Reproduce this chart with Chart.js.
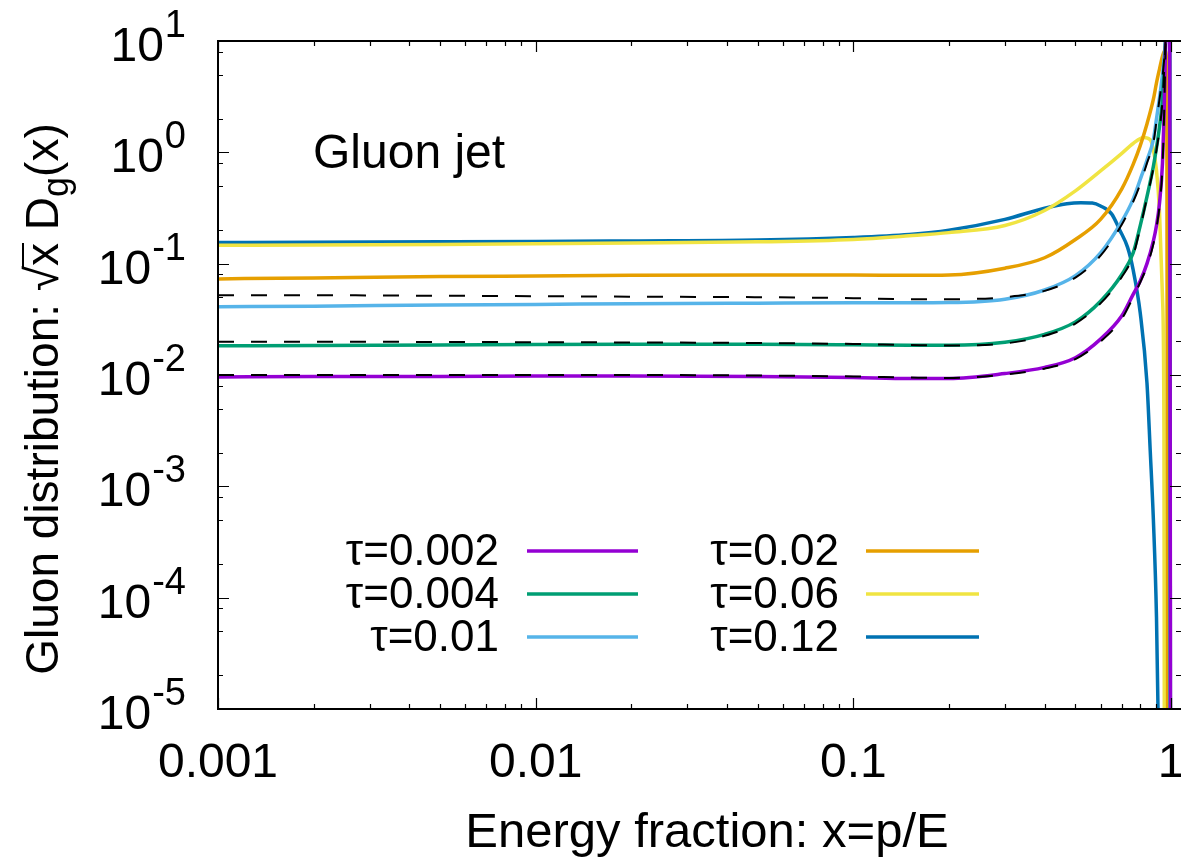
<!DOCTYPE html>
<html>
<head>
<meta charset="utf-8">
<script src="https://cdn.jsdelivr.net/npm/chart.js@4.4.1/dist/chart.umd.min.js"></script>
<style>
  html, body { margin: 0; padding: 0; background: #fff; overflow: hidden; }
  canvas { display: block; }
</style>
</head>
<body>
<canvas id="chart" width="1181" height="858"></canvas>
<script>
'use strict';

let canvasElem = document.getElementById('chart');

// axis ticks
const xTicks = [0.001, 0.01, 0.1, 1];
const xTickLabels = ['0.001', '0.01', '0.1', '1'];
const yTicks = [1e-5, 1e-4, 1e-3, 1e-2, 1e-1, 1, 10];
const yTickExps = ['-5', '-4', '-3', '-2', '-1', '0', '1'];

// shared x grid for the flat part of every curve
const xBase = [0.001, 0.002, 0.005, 0.01, 0.02, 0.05, 0.1, 0.15, 0.2, 0.3, 0.4, 0.5, 0.6, 0.7, 0.76, 0.8, 0.84, 0.88, 0.9, 0.92, 0.94];

// tau = 0.002
const tau002X = xBase.concat([0.95, 0.96, 0.97, 0.98, 0.99, 0.998]);
const tau002Y = [0.0096, 0.0097, 0.0097, 0.0098, 0.0098, 0.0097, 0.0095, 0.0093, 0.0093, 0.0103, 0.0117, 0.0143, 0.021, 0.034, 0.053, 0.07, 0.10, 0.16, 0.22, 0.35, 0.8, 2, 8, 25, 60, 120, 1e-8];
// tau = 0.004
const tau004X = xBase.concat([0.96, 0.97, 0.98, 0.99, 0.997]);
const tau004Y = [0.0183, 0.0184, 0.0186, 0.0188, 0.0189, 0.0189, 0.0187, 0.0185, 0.0185, 0.0197, 0.0232, 0.030, 0.046, 0.080, 0.125, 0.22, 0.40, 0.75, 1.1, 1.7, 3.0, 10, 25, 50, 80, 1e-8];
// tau = 0.01
const tau01X = xBase.concat([0.96, 0.97, 0.98, 0.99, 0.995]);
const tau01Y = [0.041, 0.0415, 0.0425, 0.043, 0.0437, 0.0442, 0.0445, 0.0445, 0.0447, 0.048, 0.058, 0.078, 0.125, 0.24, 0.38, 0.57, 0.85, 1.3, 2.0, 3.1, 5, 9.5, 14, 20, 22, 1e-8];
// tau = 0.02
const tau02X = xBase.concat([0.957, 0.97, 0.978]);
const tau02Y = [0.073, 0.0745, 0.0765, 0.0775, 0.0785, 0.079, 0.079, 0.0785, 0.079, 0.091, 0.113, 0.165, 0.25, 0.47, 0.78, 1.15, 1.8, 3.0, 4.2, 5.6, 7.3, 8.2, 6, 1e-8];
// tau = 0.06
const tau06X = [0.001, 0.002, 0.005, 0.01, 0.02, 0.05, 0.1, 0.15, 0.2, 0.3, 0.4, 0.5, 0.6, 0.7, 0.76, 0.82, 0.86, 0.88, 0.9, 0.92, 0.94, 0.95, 0.955];
const tau06Y = [0.146, 0.147, 0.149, 0.151, 0.153, 0.157, 0.165, 0.178, 0.19, 0.22, 0.30, 0.45, 0.68, 0.98, 1.2, 1.36, 1.3, 1.05, 0.69, 0.29, 0.05, 0.003, 1e-8];
// tau = 0.12
const tau12X = [0.001, 0.002, 0.005, 0.01, 0.02, 0.05, 0.1, 0.15, 0.2, 0.3, 0.4, 0.47, 0.52, 0.565, 0.6, 0.65, 0.69, 0.73, 0.76, 0.8, 0.84, 0.86, 0.88, 0.9, 0.91, 0.93];
const tau12Y = [0.155, 0.156, 0.157, 0.158, 0.16, 0.163, 0.172, 0.183, 0.20, 0.25, 0.315, 0.345, 0.352, 0.35, 0.33, 0.28, 0.20, 0.14, 0.088, 0.036, 0.0085, 0.0021, 5e-4, 6.7e-5, 1e-5, 1e-8];

// dashed approximations
const approxX = xBase.concat([0.95, 0.96, 0.97]);
const approx002Y = [0.0100, 0.0100, 0.0100, 0.0100, 0.0100, 0.0099, 0.0097, 0.0095, 0.0094, 0.0101, 0.0114, 0.0139, 0.020, 0.032, 0.050, 0.068, 0.095, 0.15, 0.21, 0.33, 0.75, 1.9, 7.5, 24];
const approx004Y = [0.0199, 0.0199, 0.0198, 0.0197, 0.0196, 0.0194, 0.019, 0.0186, 0.0184, 0.0192, 0.0225, 0.029, 0.044, 0.076, 0.118, 0.21, 0.39, 0.72, 1.05, 1.6, 2.9, 5, 9.5, 24];
const approx01Y = [0.052, 0.052, 0.0515, 0.051, 0.0505, 0.050, 0.049, 0.048, 0.048, 0.050, 0.057, 0.075, 0.118, 0.225, 0.36, 0.52, 0.8, 1.22, 1.9, 3.0, 4.8, 6.5, 9, 13];

function pts(xs, ys) {
    let out = [];
    for (let i = 0; i < xs.length; i++) {
        out.push({x: xs[i], y: ys[i]});
    }
    return out;
}

function solid(label, xs, ys, color) {
    return {
        label: label, data: pts(xs, ys),
        borderColor: color, borderWidth: 3.5,
        pointRadius: 0, fill: false,
        cubicInterpolationMode: 'monotone'
    };
}

function dashed(xs, ys) {
    return {
        label: '', data: pts(xs, ys),
        borderColor: '#000', borderWidth: 2, borderDash: [16, 17],
        pointRadius: 0, fill: false,
        cubicInterpolationMode: 'monotone'
    };
}

const datasets = [
    dashed(approxX, approx002Y),
    dashed(approxX, approx004Y),
    dashed(approxX, approx01Y),
    solid('τ=0.002', tau002X, tau002Y, '#9400d3'),
    solid('τ=0.004', tau004X, tau004Y, '#009e73'),
    solid('τ=0.01', tau01X, tau01Y, '#56b4e9'),
    solid('τ=0.02', tau02X, tau02Y, '#e69f00'),
    solid('τ=0.06', tau06X, tau06Y, '#f0e442'),
    solid('τ=0.12', tau12X, tau12Y, '#0072b2')
];
// draw the dashed lines on top of the solid ones
datasets.forEach(function (d, i) { d.order = d.label === '' ? 0 : 1; });

const FONT = '"Liberation Sans", Arial, Helvetica, sans-serif';

const gnuplotFrame = {
    id: 'gnuplotFrame',
    afterDraw(chart) {
        const ctx = chart.ctx;
        const a = chart.chartArea;
        const xs = chart.scales.x;
        const ys = chart.scales.y;
        ctx.save();
        ctx.strokeStyle = '#000';
        ctx.fillStyle = '#000';
        ctx.lineWidth = 2;

        // border (right edge falls off the page)
        ctx.beginPath();
        ctx.moveTo(a.right + 2, a.top);
        ctx.lineTo(a.left, a.top);
        ctx.lineTo(a.left, a.bottom);
        ctx.lineTo(a.right + 2, a.bottom);
        ctx.stroke();

        // x ticks, inward, bottom and top
        ctx.lineWidth = 1.2;
        ctx.beginPath();
        for (let d = 0.001; d < 0.5; d *= 10) {
            for (let m = 1; m <= 9; m++) {
                const px = Math.round(xs.getPixelForValue(d * m)) + 0.5;
                const len = m === 1 ? 11 : 5;
                ctx.moveTo(px, a.bottom); ctx.lineTo(px, a.bottom - len);
                ctx.moveTo(px, a.top); ctx.lineTo(px, a.top + len);
            }
        }
        let p1 = Math.round(xs.getPixelForValue(1)) + 0.5;
        ctx.moveTo(p1, a.bottom); ctx.lineTo(p1, a.bottom - 11);
        ctx.moveTo(p1, a.top); ctx.lineTo(p1, a.top + 11);
        // y ticks, inward, left and right
        for (let i = 0; i < yTicks.length; i++) {
            const subs = i < yTicks.length - 1 ? [1, 2, 5, 8] : [1];
            subs.forEach(function (m) {
                const py = Math.round(ys.getPixelForValue(yTicks[i] * m)) + 0.5;
                const len = m === 1 ? 11 : 5;
                ctx.moveTo(a.left, py); ctx.lineTo(a.left + len, py);
                ctx.moveTo(a.right, py); ctx.lineTo(a.right - len, py);
            });
        }
        ctx.stroke();

        // x tick labels
        ctx.font = '48px ' + FONT;
        ctx.textAlign = 'center';
        ctx.textBaseline = 'alphabetic';
        for (let i = 0; i < xTicks.length; i++) {
            ctx.fillText(xTickLabels[i], xs.getPixelForValue(xTicks[i]), 777);
        }

        // y tick labels 10^n
        for (let i = 0; i < yTicks.length; i++) {
            const py = ys.getPixelForValue(yTicks[i]);
            ctx.font = '38px ' + FONT;
            const ws = ctx.measureText(yTickExps[i]).width;
            ctx.textAlign = 'right';
            ctx.fillText(yTickExps[i], 186, py - 4);
            ctx.font = '48px ' + FONT;
            ctx.fillText('10', 186 - ws - 1, py + 20);
        }

        // x axis title
        ctx.font = '49px ' + FONT;
        ctx.textAlign = 'center';
        ctx.fillText('Energy fraction: x=p/E', 707, 847);

        // y axis title: Gluon distribution: sqrt(x) D_g(x)
        ctx.save();
        ctx.translate(58, 399);
        ctx.rotate(-Math.PI / 2);
        ctx.textAlign = 'left';
        const big = '46px ' + FONT, small = '36px ' + FONT;
        const parts = [
            {t: 'Gluon distribution: ', f: big, dy: 0},
            {t: '√', f: big, dy: 0},
            {t: 'x', f: big, dy: 0, bar: true},
            {t: ' D', f: big, dy: 0},
            {t: 'g', f: small, dy: 10},
            {t: '(x)', f: big, dy: 0}
        ];
        let total = 0;
        parts.forEach(function (p) { ctx.font = p.f; p.w = ctx.measureText(p.t).width; total += p.w; });
        let cx = -total / 2;
        parts.forEach(function (p) {
            ctx.font = p.f;
            ctx.fillText(p.t, cx, p.dy);
            if (p.bar) {
                ctx.lineWidth = 2;
                ctx.beginPath();
                ctx.moveTo(cx - 1, -35);
                ctx.lineTo(cx + p.w, -35);
                ctx.stroke();
            }
            cx += p.w;
        });
        ctx.restore();

        // label inside the plot
        ctx.font = '48px ' + FONT;
        ctx.textAlign = 'left';
        ctx.fillText('Gluon jet', 313, 168);

        // legend: two columns, text right aligned, sample line after it
        const shown = chart.data.datasets.filter(function (d) { return d.label !== ''; });
        const rows = [551, 594, 637];
        const cols = [{tx: 499, l0: 527, l1: 638}, {tx: 839, l0: 866, l1: 979}];
        ctx.font = '44px ' + FONT;
        ctx.textAlign = 'right';
        ctx.textBaseline = 'middle';
        shown.forEach(function (d, i) {
            const c = cols[Math.floor(i / 3)];
            const ry = rows[i % 3];
            ctx.fillStyle = '#000';
            ctx.fillText(d.label, c.tx, ry + 2);
            ctx.strokeStyle = d.borderColor;
            ctx.lineWidth = 3.5;
            ctx.beginPath();
            ctx.moveTo(c.l0, ry);
            ctx.lineTo(c.l1, ry);
            ctx.stroke();
        });
        ctx.restore();
    }
};

const config = {
    type: 'line',
    data: {datasets: datasets},
    options: {
        responsive: false,
        animation: false,
        parsing: true,
        layout: {padding: {left: 218, top: 41, right: 0, bottom: 149}},
        plugins: {legend: {display: false}, tooltip: {enabled: false}},
        scales: {
            x: {type: 'logarithmic', min: 0.001, max: 1.075, display: false},
            y: {type: 'logarithmic', min: 1e-5, max: 10, display: false}
        }
    },
    plugins: [gnuplotFrame]
};

const myGraph = new Chart(canvasElem, config);
</script>
</body>
</html>
